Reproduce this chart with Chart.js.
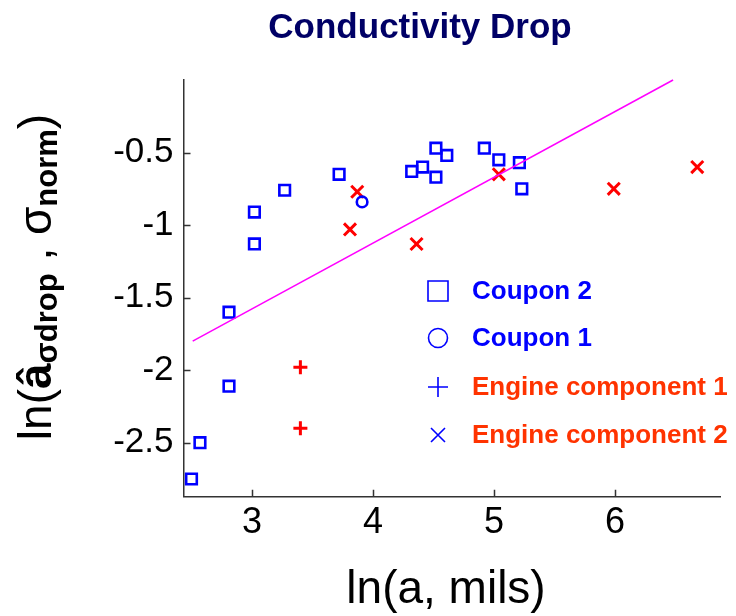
<!DOCTYPE html>
<html>
<head>
<meta charset="utf-8">
<script src="https://cdn.jsdelivr.net/npm/chart.js@4.4.1/dist/chart.umd.min.js"></script>
<style>
  html, body { margin: 0; padding: 0; background: #fff; }
  #wrap { width: 736px; height: 616px; position: relative; }
</style>
</head>
<body>
<div id="wrap"><canvas id="c"></canvas></div>
<script>
const FONT = '"Liberation Sans", Arial, Helvetica, sans-serif';

/* ------------ data ------------ */
const coupon2X = [2.50, 2.57, 2.81, 2.81, 3.02, 3.02, 3.27, 3.72, 4.32, 4.41, 4.52, 4.52, 4.61, 4.92, 5.04, 5.21, 5.23];
const coupon2Y = [-2.75, -2.50, -1.60, -2.11, -0.91, -1.13, -0.76, -0.65, -0.63, -0.60, -0.47, -0.67, -0.52, -0.47, -0.55, -0.57, -0.75];
const coupon1X = [3.91];
const coupon1Y = [-0.84];
const engine1X = [3.40, 3.40];
const engine1Y = [-1.98, -2.40];
const engine2X = [3.81, 3.87, 4.36, 5.04, 5.99, 6.68];
const engine2Y = [-1.03, -0.77, -1.13, -0.65, -0.75, -0.60];
const fitX = [2.51, 6.48];
const fitY = [-1.80, 0.00];

const xTicks = [3, 4, 5, 6];
const xTickLabels = ['3', '4', '5', '6'];
const yTicks = [-0.5, -1, -1.5, -2, -2.5];
const yTickLabels = ['-0.5', '-1', '-1.5', '-2', '-2.5'];
const seriesNames = ['Coupon 2', 'Coupon 1', 'Engine component 1', 'Engine component 2'];

const BLUE = '#0000ff', RED = '#ff0000', MAG = '#ff00ff', AXIS = '#333333';

const pts = (xs, ys) => xs.map((x, i) => ({ x, y: ys[i] }));

/* ------------ extras drawn on canvas ------------ */
const extras = {
  id: 'extras',
  afterDraw(chart) {
    const { ctx, scales: { x, y } } = chart;
    ctx.save();

    // inward tick marks (matlab style)
    ctx.strokeStyle = AXIS;
    ctx.lineWidth = 1.5;
    ctx.beginPath();
    xTicks.forEach(v => {
      const px = Math.round(x.getPixelForValue(v)) + 0.5;
      ctx.moveTo(px, y.bottom); ctx.lineTo(px, y.bottom - 7);
    });
    yTicks.forEach(v => {
      const py = Math.round(y.getPixelForValue(v)) + 0.5;
      ctx.moveTo(x.left, py); ctx.lineTo(x.left + 7, py);
    });
    ctx.stroke();

    // title
    ctx.fillStyle = '#000066';
    ctx.font = `bold 35px ${FONT}`;
    ctx.textAlign = 'center';
    ctx.textBaseline = 'alphabetic';
    ctx.fillText('Conductivity Drop', 420, 38);

    // x title
    ctx.fillStyle = '#000';
    ctx.font = `46px ${FONT}`;
    ctx.fillText('ln(a, mils)', 446, 603);

    // y title, rotated, with subscripts
    const runs = [
      { t: 'ln(', font: `46px ${FONT}`, dy: 0 },
      { t: 'â', font: `bold 46px ${FONT}`, dy: 0 },
      { t: 'σdrop', font: `bold 31px ${FONT}`, dy: 6 },
      { t: ' , ', font: `46px ${FONT}`, dy: 0 },
      { t: 'σ', font: `46px ${FONT}`, dy: 0 },
      { t: 'norm', font: `bold 31px ${FONT}`, dy: 6 },
      { t: ')', font: `46px ${FONT}`, dy: 0 },
    ];
    let total = 0;
    runs.forEach(r => { ctx.font = r.font; r.w = ctx.measureText(r.t).width; total += r.w; });
    ctx.translate(51, 277);
    ctx.rotate(-Math.PI / 2);
    ctx.textAlign = 'left';
    let cx = -total / 2;
    runs.forEach(r => { ctx.font = r.font; ctx.fillText(r.t, cx, r.dy); cx += r.w; });
    ctx.setTransform(1, 0, 0, 1, 0, 0);

    // legend
    const lx = 438, tx = 472, rows = [291, 338, 387, 435];
    const colors = [BLUE, BLUE, '#ff3300', '#ff3300'];
    ctx.strokeStyle = BLUE;
    ctx.lineWidth = 1.6;
    rows.forEach((ry, i) => {
      ctx.beginPath();
      if (i === 0) ctx.rect(lx - 10, ry - 10, 20, 20);
      else if (i === 1) ctx.arc(lx, ry, 9.5, 0, Math.PI * 2);
      else if (i === 2) { ctx.moveTo(lx - 10, ry); ctx.lineTo(lx + 10, ry); ctx.moveTo(lx, ry - 10); ctx.lineTo(lx, ry + 10); }
      else { ctx.moveTo(lx - 7, ry - 7); ctx.lineTo(lx + 7, ry + 7); ctx.moveTo(lx + 7, ry - 7); ctx.lineTo(lx - 7, ry + 7); }
      ctx.stroke();
      ctx.fillStyle = colors[i];
      ctx.font = `bold 26px ${FONT}`;
      ctx.textBaseline = 'middle';
      ctx.fillText(seriesNames[i], tx, ry + 1);
    });
    ctx.restore();
  }
};

/* ------------ chart ------------ */
new Chart(document.getElementById('c'), {
  type: 'scatter',
  data: {
    datasets: [
      { label: 'fit', data: pts(fitX, fitY), showLine: true, borderColor: MAG, borderWidth: 1.5,
        pointRadius: 0, fill: false, clip: false },
      { label: seriesNames[0], data: pts(coupon2X, coupon2Y), pointStyle: 'rect', pointRadius: 7.5,
        borderColor: BLUE, backgroundColor: 'rgba(0,0,0,0)', borderWidth: 2.6, clip: false },
      { label: seriesNames[1], data: pts(coupon1X, coupon1Y), pointStyle: 'circle', pointRadius: 5.3,
        borderColor: BLUE, backgroundColor: 'rgba(0,0,0,0)', borderWidth: 2.6, clip: false },
      { label: seriesNames[2], data: pts(engine1X, engine1Y), pointStyle: 'cross', pointRadius: 7,
        borderColor: RED, backgroundColor: RED, borderWidth: 3, clip: false },
      { label: seriesNames[3], data: pts(engine2X, engine2Y), pointStyle: 'crossRot', pointRadius: 8.5,
        borderColor: RED, backgroundColor: RED, borderWidth: 3, clip: false },
    ]
  },
  options: {
    responsive: true,
    maintainAspectRatio: false,
    animation: false,
    events: [],
    layout: { padding: { top: 80, right: 16, bottom: 0, left: 0 } },
    plugins: { legend: { display: false }, tooltip: { enabled: false }, title: { display: false } },
    scales: {
      x: {
        type: 'linear', min: 2.434, max: 6.868,
        afterBuildTicks: s => { s.ticks = xTicks.map(v => ({ value: v })); },
        afterFit: s => { s.height = 616 - 496.7; },
        ticks: { callback: (v, i) => xTickLabels[i], color: '#000', padding: 5,
                 font: { family: FONT, size: 36 }, maxRotation: 0, autoSkip: false },
        grid: { display: false, drawTicks: false },
        border: { display: true, color: AXIS, width: 1.5 }
      },
      y: {
        type: 'linear', min: -2.872, max: 0,
        afterBuildTicks: s => { s.ticks = yTicks.map(v => ({ value: v })); },
        afterFit: s => { s.width = 183.5; },
        ticks: { callback: (v, i) => yTickLabels[i], color: '#000', padding: 10,
                 font: { family: FONT, size: 35 }, autoSkip: false },
        grid: { display: false, drawTicks: false },
        border: { display: true, color: AXIS, width: 1.5 }
      }
    }
  },
  plugins: [extras]
});
</script>
</body>
</html>
